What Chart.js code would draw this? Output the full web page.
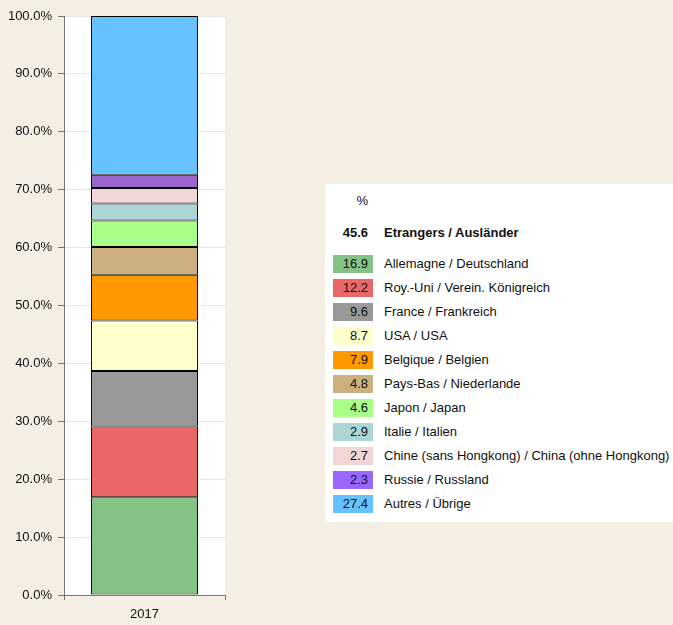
<!DOCTYPE html>
<html>
<head>
<meta charset="utf-8">
<script src="https://cdn.jsdelivr.net/npm/chart.js@4"></script>
<style>
  html,body{margin:0;padding:0;}
  body{width:673px;height:625px;background:#f5eee4;position:relative;overflow:hidden;font-family:"Liberation Sans",Arial,sans-serif;}
  #wrap{position:absolute;left:0;top:0;width:240px;height:625px;}
  #legend{position:absolute;left:325px;top:184px;width:360px;height:338px;background:#fff;font-size:13px;color:#111;}
  .row{position:absolute;left:0;height:24px;line-height:24px;display:flex;align-items:center;white-space:nowrap;}
  .sw{width:40px;height:18px;line-height:18px;text-align:right;box-sizing:border-box;padding-right:5px;margin-left:8px;}
  .lbl{margin-left:11px;}
  .bold{font-weight:bold;}
</style>
</head>
<body>
<div id="wrap"><canvas id="chart" width="240" height="625"></canvas></div>
<div id="legend"></div>
<script>
const years = ['2017'];
const countries = [
  'Allemagne / Deutschland',
  'Roy.-Uni / Verein. Königreich',
  'France / Frankreich',
  'USA / USA',
  'Belgique / Belgien',
  'Pays-Bas / Niederlande',
  'Japon / Japan',
  'Italie / Italien',
  'Chine (sans Hongkong) / China (ohne Hongkong)',
  'Russie / Russland',
  'Autres / Übrige'
];
const shares = [16.9, 12.2, 9.6, 8.7, 7.9, 4.8, 4.6, 2.9, 2.7, 2.3, 27.4];
const colors = ['#85c285','#eb6666','#999999','#ffffcc','#ff9900','#ccb07f','#aaff88','#acd6d6','#f2d5d5','#9966cc','#66c2ff'];
const legendColors = ['#85c285','#eb6666','#999999','#ffffcc','#ff9900','#ccb07f','#aaff88','#acd6d6','#f2d5d5','#9966ff','#66c2ff'];
const totalLabel = 'Etrangers / Ausländer';
const totalValue = '45.6';
const yTicks = [0,10,20,30,40,50,60,70,80,90,100];

// legend table
const leg = document.getElementById('legend');
function addRow(top, html){
  const r = document.createElement('div');
  r.className = 'row';
  r.style.top = top + 'px';
  r.innerHTML = html;
  leg.appendChild(r);
}
addRow(5, '<div class="sw" style="background:transparent">%</div>');
addRow(37, '<div class="sw bold" style="background:transparent">'+totalValue+'</div><div class="lbl bold">'+totalLabel+'</div>');
countries.forEach((c,i)=>{
  addRow(68 + i*24, '<div class="sw" style="background:'+legendColors[i]+'">'+shares[i].toFixed(1)+'</div><div class="lbl">'+c+'</div>');
});

const plotBg = {
  id:'plotBg',
  beforeDraw(chart){
    const a = chart.chartArea, ctx = chart.ctx;
    ctx.save();
    ctx.fillStyle = '#ffffff';
    ctx.fillRect(a.left, a.top, a.right - a.left, a.bottom - a.top);
    ctx.restore();
  }
};

Chart.defaults.font.family = '"Liberation Sans", Arial, sans-serif';
Chart.defaults.font.size = 13;
Chart.defaults.color = '#111';

new Chart(document.getElementById('chart').getContext('2d'), {
  type:'bar',
  data:{
    labels: years,
    datasets: countries.map((c,i)=>({
      label: c,
      data: [shares[i]],
      backgroundColor: colors[i],
      borderColor: '#000',
      borderWidth: 1,
      borderSkipped: false,
      categoryPercentage: 1,
      barPercentage: 0.665
    }))
  },
  options:{
    responsive:false,
    animation:false,
    layout:{ padding:{ top:16, right:15, bottom:0, left:0 } },
    plugins:{ legend:{ display:false }, tooltip:{ enabled:false } },
    scales:{
      x:{
        stacked:true,
        afterFit(s){ s.height = 30; },
        grid:{ offset:true, drawOnChartArea:false, tickLength:5, tickColor:'#777' },
        border:{ color:'#777' },
        ticks:{ padding:7 }
      },
      y:{
        stacked:true,
        min:0, max:100,
        afterFit(s){ s.width = 64; },
        afterBuildTicks(s){ s.ticks = yTicks.map(v=>({value:v})); },
        ticks:{ padding:6, callback:v=>v.toFixed(1)+'%' },
        grid:{ color:'#e6e6e6', tickColor:'#777', tickLength:6 },
        border:{ color:'#777' }
      }
    }
  },
  plugins:[plotBg]
});
</script>
</body>
</html>
